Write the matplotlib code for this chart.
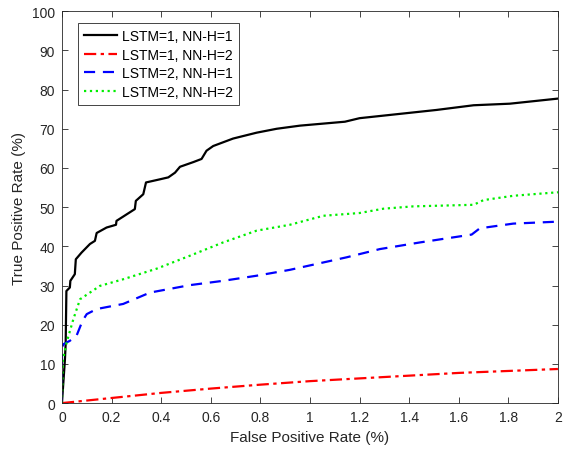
import numpy as np
import matplotlib.pyplot as plt

plt.rcParams['font.family'] = ['Liberation Sans', 'DejaVu Sans']

##data (FPR %, TPR %)
fpr_11 = [0, 0.012, 0.015, 0.018, 0.032, 0.034, 0.052, 0.056, 0.079, 0.113, 0.133, 0.14, 0.18,
          0.218, 0.22, 0.294, 0.298, 0.328, 0.339, 0.395, 0.429, 0.456, 0.476, 0.53, 0.563,
          0.583, 0.61, 0.69, 0.785, 0.866, 0.96, 1.141, 1.2, 1.51, 1.66, 1.806, 2.0]
tpr_11 = [0, 11, 15, 28.6, 29.5, 31.2, 32.9, 36.7, 38.4, 40.6, 41.4, 43.4, 44.8,
          45.5, 46.5, 49.5, 51.6, 53.3, 56.3, 57.1, 57.6, 58.8, 60.3, 61.5, 62.3,
          64.4, 65.6, 67.5, 69.0, 70.0, 70.8, 71.8, 72.7, 74.8, 76.0, 76.4, 77.7]

fpr_12 = [0, 0.2, 0.4, 0.6, 0.8, 1.0, 1.2, 1.4, 1.6, 1.8, 2.0]
tpr_12 = [0, 1.3, 2.6, 3.7, 4.7, 5.6, 6.3, 7.0, 7.7, 8.2, 8.7]

fpr_21 = [0, 0.0, 0.005, 0.032, 0.059, 0.083, 0.1, 0.14, 0.247, 0.355, 0.516, 0.65, 0.785,
          0.919, 1.148, 1.282, 1.444, 1.652, 1.685, 1.82, 2.0]
tpr_21 = [0, 11.7, 15, 15.9, 17.2, 21, 22.7, 24, 25.3, 28.2, 30.1, 31.2, 32.5,
          34.0, 37.2, 39.3, 41, 43.0, 44.6, 45.8, 46.3]

fpr_22 = [0, 0.004, 0.019, 0.046, 0.073, 0.153, 0.247, 0.382, 0.516, 0.65, 0.785, 0.919,
          1.054, 1.2, 1.296, 1.417, 1.66, 1.70, 1.82, 2.0]
tpr_22 = [0, 11, 15.5, 21.4, 26.5, 29.9, 31.6, 34.3, 37.6, 41, 44, 45.5,
          47.8, 48.5, 49.6, 50.2, 50.6, 51.8, 52.9, 53.8]

labels = ['LSTM=1, NN-H=1', 'LSTM=1, NN-H=2', 'LSTM=2, NN-H=1', 'LSTM=2, NN-H=2']

##plot
fig = plt.figure(figsize=(5.63, 4.52), dpi=100)
ax = fig.add_axes([0.110, 0.106, 0.881, 0.867])

ax.plot(fpr_11, tpr_11, color='black', linestyle='-', linewidth=1.6, label=labels[0])
ax.plot(fpr_12, tpr_12, color='red', linestyle='-.', linewidth=1.6, dashes=(5.5, 2, 1.5, 2), label=labels[1])
ax.plot(fpr_21, tpr_21, color='blue', linestyle='--', linewidth=1.6, dashes=(5, 3.5), label=labels[2])
ax.plot(fpr_22, tpr_22, color='#00ee00', linestyle=':', linewidth=1.6, label=labels[3])

ax.set_xlim(0, 2)
ax.set_ylim(0, 100)
ax.set_xticks(np.arange(0, 2.01, 0.2))
ax.set_xticklabels(['0', '0.2', '0.4', '0.6', '0.8', '1', '1.2', '1.4', '1.6', '1.8', '2'])
ax.set_yticks(np.arange(0, 101, 10))
ax.tick_params(direction='in', top=True, right=True, length=4, width=0.6,
               labelsize=10, colors='#262626', pad=5)
for s in ax.spines.values():
    s.set_color('#262626')
    s.set_linewidth(0.6)

ax.set_xlabel('False Positive Rate (%)', fontsize=11, color='#262626', labelpad=4)
ax.set_ylabel('True Positive Rate (%)', fontsize=11, color='#262626', labelpad=4)

leg = ax.legend(loc='upper left', bbox_to_anchor=(0.032, 0.97), fontsize=10, fancybox=False,
                framealpha=1, edgecolor='#262626', borderpad=0.45, handlelength=2.4,
                handletextpad=0.3, labelspacing=0.32, borderaxespad=0)
leg.get_frame().set_linewidth(0.6)

fig.savefig('out.png', dpi=100)
